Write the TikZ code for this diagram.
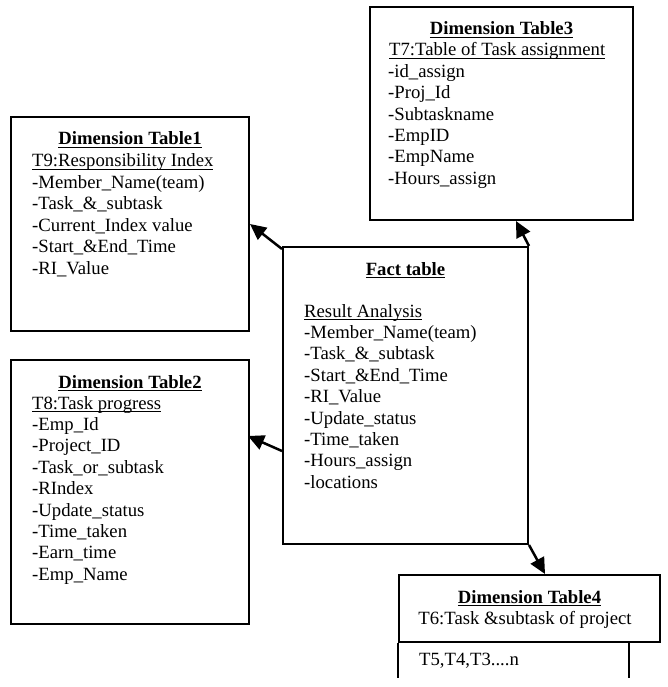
\documentclass[tikz,border=0pt]{standalone}
\usepackage{fontspec}
\setmainfont{Liberation Serif}
\usetikzlibrary{arrows.meta,calc}
\newsavebox\myulbox
\newcommand\myul[1]{\sbox\myulbox{#1}\rlap{\rule[-3.2pt]{\wd\myulbox}{1.2pt}}\usebox\myulbox}
\begin{document}
\begin{tikzpicture}[x=1pt,y=-1pt,
  box/.style={draw,line width=2pt,inner sep=0pt},
  arr/.style={line width=2.5pt,-{Triangle[length=16pt,width=15pt]}},
  ln/.style={anchor=base west,inner sep=0pt},
  hd/.style={anchor=base,inner sep=0pt,font=\fontsize{18.7}{21.4}\selectfont\bfseries},
  every node/.append style={font=\fontsize{18.7}{21.4}\selectfont}]
\useasboundingbox (0,0) rectangle (668,687);
% boxes
\node[box,minimum width=263pt,minimum height=213pt] (t3) at (501.5,113.5) {};
\node[box,minimum width=238pt,minimum height=214pt] (t1) at (130,224) {};
\node[box,minimum width=238pt,minimum height=264pt] (t2) at (130,492) {};
\node[box,minimum width=245pt,minimum height=297pt] (fact) at (405.5,395.5) {};
\node[box,minimum width=261pt,minimum height=67pt] (t4) at (529.5,608.5) {};
\coordinate (t4bl) at ($(t4.south west)+(0,35)$);
\coordinate (t4r) at ($(t4.south west)+(231,0)$);
\coordinate (t4br) at ($(t4r)+(0,35)$);
\draw[line width=2pt] (t4.south west) -- (t4bl);
\draw[line width=2pt] (t4r) -- (t4br);
% Table3
\node[hd] (h3) at (501.5,35) {\myul{Dimension Table3}};
\node[ln] (s3) at (389,56) {\myul{T7:Table of Task assignment}};
\foreach \t [count=\i] in {-id\_assign,-Proj\_Id,-Subtaskname,-EmpID,-EmpName,-Hours\_assign}
  \node[ln] (t3l\i) at (388,{56+21.4*\i}) {\t};
% Table1
\node[hd] (h1) at (130,145) {\myul{Dimension Table1}};
\node[ln] (s1) at (32,167) {\myul{T9:Responsibility Index}};
\foreach \t [count=\i] in {-Member\_Name(team),-Task\_\&\_subtask,-Current\_Index value,-Start\_\&End\_Time,-RI\_Value}
  \node[ln] (t1l\i) at (32,{167+21.4*\i}) {\t};
% Table2
\node[hd] (h2) at (130,388) {\myul{Dimension Table2}};
\node[ln] (s2) at (32,409) {\myul{T8:Task progress}};
\foreach \t [count=\i] in {-Emp\_Id,-Project\_ID,-Task\_or\_subtask,-RIndex,-Update\_status,-Time\_taken,-Earn\_time,-Emp\_Name}
  \node[ln] (t2l\i) at (32,{409+21.4*\i}) {\t};
% Fact
\node[hd] (hf) at (405.5,275) {\myul{Fact table}};
\node[ln] (sf) at (304,317) {\myul{Result Analysis}};
\foreach \t [count=\i] in {-Member\_Name(team),-Task\_\&\_subtask,-Start\_\&End\_Time,-RI\_Value,-Update\_status,-Time\_taken,-Hours\_assign,-locations}
  \node[ln] (fl\i) at (304,{317+21.4*\i}) {\t};
% Table4
\node[hd] (h4) at (529.5,603) {\myul{Dimension Table4}};
\node[anchor=base,inner sep=0pt] (s4) at (525,624) {T6:Task \&subtask of project};
\node[ln] (l4) at (419,665) {T5,T4,T3....n};
% arrows
\draw[arr] ($(fact.north west)+(0,3)$) -- (t1.east);
\draw[arr] ($(fact.north west)+(0,205)$) -- ($(t2.north east)+(-2,77)$);
\draw[arr] (fact.north east) -- ($(t3.south)+(14.5,0)$);
\draw[arr] (fact.south east) -- ($(t4.north)+(15.5,0)$);
\end{tikzpicture}
\end{document}
